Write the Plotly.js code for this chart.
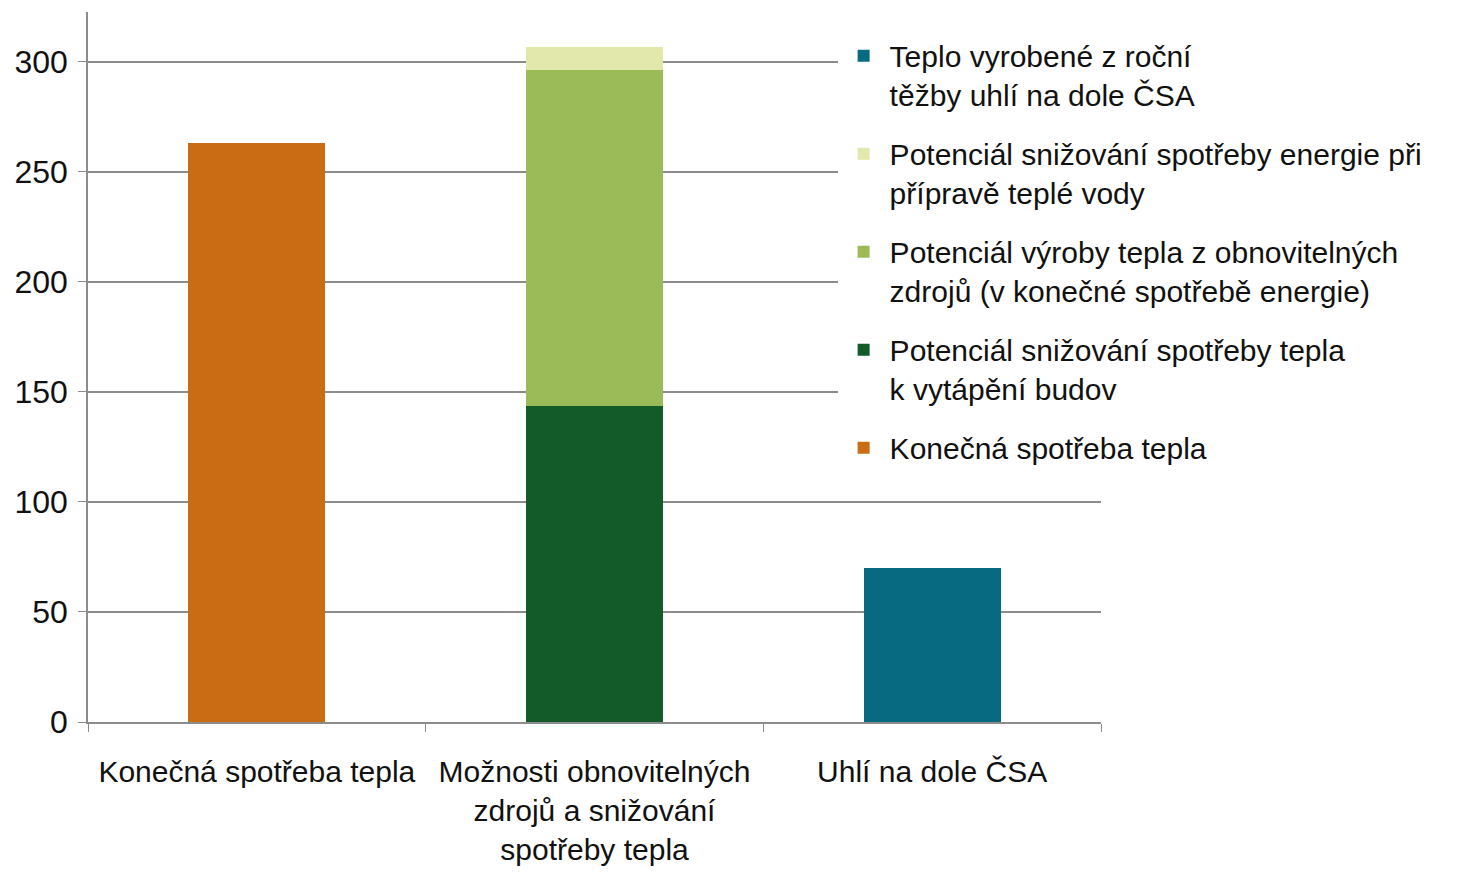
<!DOCTYPE html>
<html lang="cs">
<head>
    <meta charset="UTF-8">
    <title>Teplo</title>
    <script src="https://cdn.plot.ly/plotly-3.0.1.min.js"></script>
    <style>
        body { margin: 0; background: #fff; }
        #chart { width: 1460px; height: 872px; }
    </style>
</head>
<body>
    <div id="chart"></div>
    <script>
        // kategorie na ose x
        const categories = [
            'Konečná spotřeba tepla',
            'Možnosti obnovitelných<br>zdrojů a snižování<br>spotřeby tepla',
            'Uhlí na dole ČSA'
        ];

        // hodnoty jednotlivých řad
        const konecnaSpotreba = [263, null, null];
        const snizovaniVytapeni = [null, 143.5, null];
        const obnovitelneZdroje = [null, 153, null];
        const snizovaniTepleVody = [null, 10.5, null];
        const teploUhli = [null, null, 70];

        const names = [
            'Konečná spotřeba tepla',
            'Potenciál snižování spotřeby tepla<br>k vytápění budov',
            'Potenciál výroby tepla z obnovitelných<br>zdrojů (v konečné spotřebě energie)',
            'Potenciál snižování spotřeby energie při<br>přípravě teplé vody',
            'Teplo vyrobené z roční<br>těžby uhlí na dole ČSA'
        ];
        const colors = ['#C96C14', '#135B29', '#9BBB59', '#E2E8AC', '#086A80'];
        const series = [konecnaSpotreba, snizovaniVytapeni, obnovitelneZdroje, snizovaniTepleVody, teploUhli];

        const data = series.map((vals, i) => ({
            x: categories,
            y: vals,
            type: 'bar',
            name: names[i],
            legendgroup: 'g' + i,
            legendrank: 1000 - i,   // legenda v opačném pořadí
            width: 0.405,
            marker: { color: colors[i] },
            hoverinfo: 'y+name'
        }));

        const font = { family: 'Liberation Sans, Arial, sans-serif', size: 30, color: '#111' };

        const layout = {
            width: 1460,
            height: 872,
            barmode: 'stack',
            margin: { l: 88, r: 359, t: 12, b: 150 },
            paper_bgcolor: '#fff',
            plot_bgcolor: '#fff',
            font: font,
            xaxis: {
                tickson: 'boundaries',
                ticks: 'outside',
                ticklen: 8,
                tickcolor: '#8c8c8c',
                showline: true,
                linecolor: '#8c8c8c',
                linewidth: 1.5,
                showgrid: false,
                tickfont: font,
                ticklabelstandoff: 22
            },
            yaxis: {
                range: [0, 322.7],
                tickvals: [0, 50, 100, 150, 200, 250, 300],
                ticks: 'outside',
                ticklen: 8,
                tickcolor: '#8c8c8c',
                showline: true,
                linecolor: '#8c8c8c',
                linewidth: 1.5,
                gridcolor: '#8c8c8c',
                gridwidth: 1.5,
                zeroline: false,
                tickfont: { family: font.family, size: 32, color: '#111' },
                ticklabelstandoff: 4
            },
            legend: {
                x: 0.74,
                y: 0.975,
                xanchor: 'left',
                yanchor: 'top',
                valign: 'top',
                tracegroupgap: 17,
                itemwidth: 42,
                bgcolor: '#fff',
                font: font
            },
            showlegend: true
        };

        Plotly.newPlot('chart', data, layout, { displayModeBar: false });
    </script>
</body>
</html>
